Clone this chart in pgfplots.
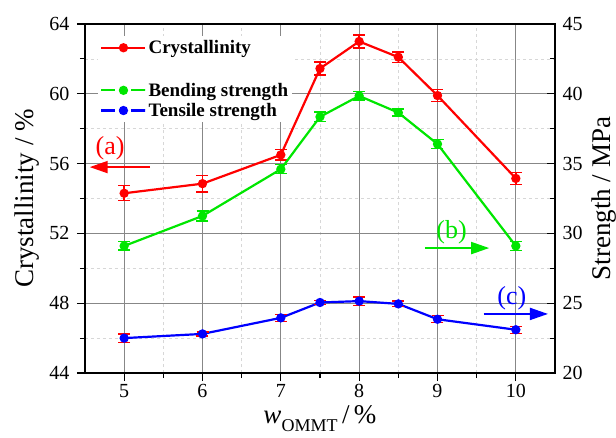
\documentclass[border=0pt]{standalone}
\usepackage{fontspec}
\setmainfont{Liberation Serif}
\usepackage{pgfplots}
\pgfplotsset{compat=1.18}
\usetikzlibrary{arrows.meta}
\definecolor{cred}{RGB}{255,0,0}
\definecolor{cgreen}{RGB}{0,230,0}
\definecolor{cblue}{RGB}{0,0,255}
\definecolor{gridmaj}{RGB}{135,135,135}
\definecolor{gridmin}{RGB}{215,215,215}
\begin{document}
\begin{tikzpicture}
\useasboundingbox (-85pt,-64pt) rectangle (531pt,373pt);
\pgfplotsset{
  every axis/.append style={
    scale only axis, width=470pt, height=349pt,
    xmin=4.5, xmax=10.5,
    /pgf/number format/assume math mode=true,
    tick label style={font=\fontsize{20}{24}\selectfont},
    label style={font=\fontsize{27}{31}\selectfont},
    axis line style={line width=1.3pt, black},
    major tick length=8pt, minor tick length=5pt,
    every tick/.style={black, line width=1.1pt},
  },
  errc/.style={error bars/.cd, y dir=both, y explicit,
    error bar style={line width=1.4pt, #1},
    error mark options={rotate=90, mark size=6pt, line width=1.4pt, #1}},
}
\begin{axis}[
  name=ax1,
  ymin=44, ymax=64,
  xtick={5,6,7,8,9,10}, minor x tick num=1,
  ytick={44,48,52,56,60,64}, minor y tick num=1,
  tick pos=left, tick align=outside,
  yticklabel style={xshift=-4pt},
  grid=both,
  major grid style={gridmaj, line width=0.8pt},
  minor grid style={gridmin, dashed, line width=0.8pt},
  xlabel={\textit{w}\raisebox{-0.3em}{\fontsize{18}{18}\selectfont OMMT}\,/\,\%},
  xlabel style={at={(rel axis cs:0.5,0)}, anchor=base, yshift=-50pt},
  ylabel={Crystallinity / \%},
  ylabel style={at={(rel axis cs:0,0.5)}, anchor=center, yshift=58pt},
]
\addplot+[cred, line width=2.2pt, mark=*, mark size=3.5pt, mark options={solid, fill=cred, draw=cred}, errc=cred] coordinates {
 (5,54.3) +- (0,0.43)
 (6,54.85) +- (0,0.48)
 (7,56.5) +- (0,0.30)
 (7.5,61.45) +- (0,0.38)
 (8,63.0) +- (0,0.37)
 (8.5,62.1) +- (0,0.29)
 (9,59.9) +- (0,0.33)
 (10,55.15) +- (0,0.35)
};
\node[text=cred, font=\fontsize{26}{30}\selectfont] at (axis cs:4.82,56.9) {(a)};
\draw[cred, line width=1.8pt, -{Triangle[length=18pt,width=12pt]}] (axis cs:5.33,55.8) -- (axis cs:4.56,55.8);
\end{axis}
\begin{axis}[
  ymin=20, ymax=45,
  axis x line=none,
  axis y line*=right,
  ytick={20,25,30,35,40,45}, minor y tick num=1,
  ytick pos=right, tick align=inside,
  yticklabel style={xshift=4pt},
  ylabel={Strength / MPa},
  ylabel style={at={(rel axis cs:1,0.5)}, anchor=center, yshift=-49pt},
  legend style={at={(axis description cs:0.028,0.965)}, anchor=north west,
    draw=none, fill=white, font=\bfseries\fontsize{19}{22}\selectfont,
    row sep=1.5pt, inner sep=2pt},
  legend cell align=left,
  legend image code/.code={\draw[mark repeat=2,mark phase=2,#1] plot coordinates {(0pt,0pt) (22pt,0pt) (44pt,0pt)};},
]
\addlegendimage{cred, line width=2.2pt, mark=*, mark size=3.5pt, mark options={solid, fill=cred}}
\addlegendentry{Crystallinity}
\addlegendimage{empty legend}
\addlegendentry{\fontsize{22}{22}\selectfont\strut}
\addlegendimage{cgreen, line width=2.2pt, dash pattern=on 14pt off 4pt on 8pt off 4pt on 14pt off 0pt, mark=*, mark size=3.5pt, mark options={solid, fill=cgreen}}
\addlegendentry{Bending strength}
\addlegendimage{cblue, line width=2.2pt, dash pattern=on 14pt off 4pt on 8pt off 4pt on 14pt off 0pt, mark=*, mark size=3.5pt, mark options={solid, fill=cblue}}
\addlegendentry{Tensile strength}
\addplot+[forget plot, cgreen, line width=2.2pt, mark=*, mark size=3.5pt, mark options={solid, fill=cgreen, draw=cgreen}, errc=cgreen] coordinates {
 (5,29.1) +- (0,0.30)
 (6,31.25) +- (0,0.36)
 (7,34.6) +- (0,0.32)
 (7.5,38.35) +- (0,0.35)
 (8,39.85) +- (0,0.30)
 (8.5,38.65) +- (0,0.25)
 (9,36.4) +- (0,0.33)
 (10,29.1) +- (0,0.33)
};
\addplot+[forget plot, cblue, line width=2.2pt, mark=*, mark size=3.5pt, mark options={solid, fill=cblue, draw=cblue}, errc=cred] coordinates {
 (5,22.5) +- (0,0.30)
 (6,22.8) +- (0,0.15)
 (7,23.95) +- (0,0.25)
 (7.5,25.05) +- (0,0.15)
 (8,25.15) +- (0,0.30)
 (8.5,24.95) +- (0,0.20)
 (9,23.85) +- (0,0.25)
 (10,23.1) +- (0,0.25)
};
\node[text=cgreen, font=\fontsize{26}{30}\selectfont] at (axis cs:9.18,30.1) {(b)};
\draw[cgreen, line width=1.8pt, -{Triangle[length=18pt,width=12pt]}] (axis cs:8.84,28.95) -- (axis cs:9.66,28.95);
\node[text=cblue, font=\fontsize{26}{30}\selectfont] at (axis cs:9.95,25.37) {(c)};
\draw[cblue, line width=1.8pt, -{Triangle[length=18pt,width=12pt]}] (axis cs:9.59,24.23) -- (axis cs:10.41,24.23);
\end{axis}
\end{tikzpicture}
\end{document}
